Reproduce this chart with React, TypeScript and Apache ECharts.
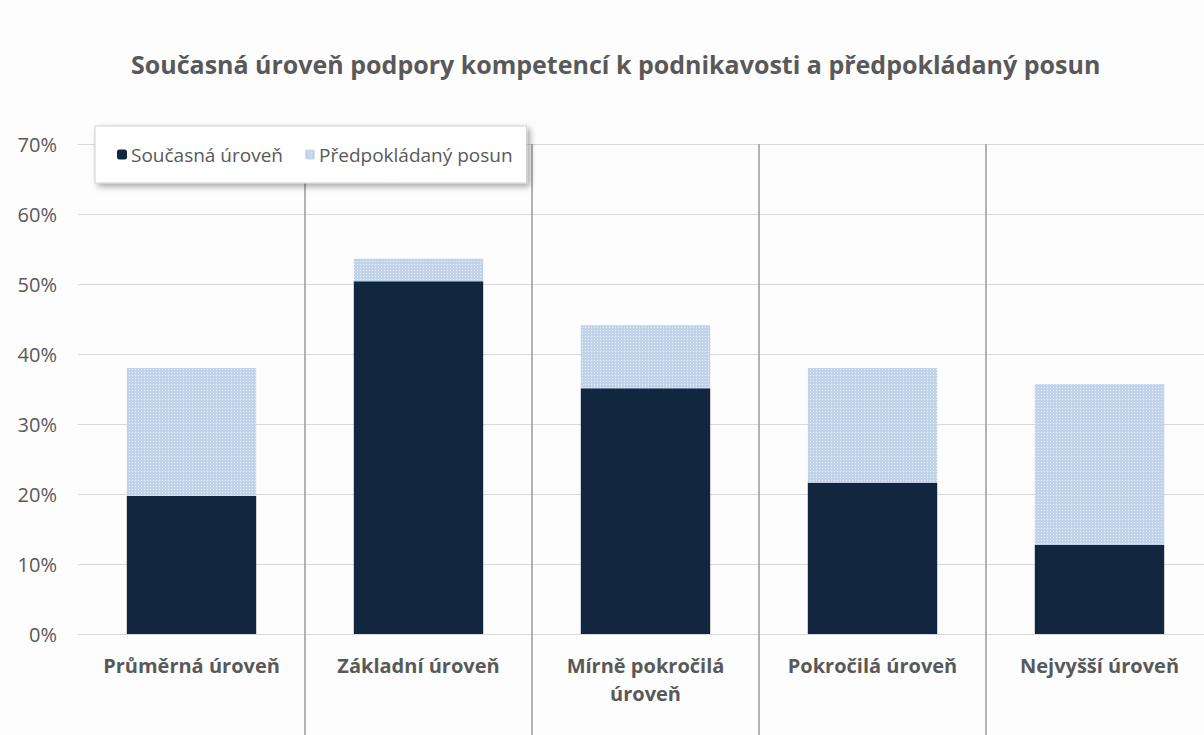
import React, { useEffect, useRef } from "react";
import * as echarts from "echarts";

const categories = [
  "Průměrná úroveň",
  "Základní úroveň",
  "Mírně pokročilá\núroveň",
  "Pokročilá úroveň",
  "Nejvyšší úroveň",
];
const currentLevel = [19.7, 50.4, 35.1, 21.6, 12.7];
const expectedShift = [18.3, 3.2, 9.0, 16.4, 23.0];
const seriesNames = ["Současná úroveň", "Předpokládaný posun"];
const titleText = "Současná úroveň podpory kompetencí k podnikavosti a předpokládaný posun";
const yTicks = { min: 0, max: 70, interval: 10 };

const FONT = "'Open Sans', 'Noto Sans', sans-serif";
const GRAY = "#595959";

export default function App() {
  const ref = useRef<HTMLDivElement>(null);
  useEffect(() => {
    document.body.style.margin = "0";
    const chart = echarts.init(ref.current!, null, { renderer: "svg" });
    const boundary = (i: number) => i !== 0;
    chart.setOption({
      animation: false,
      backgroundColor: "#fdfdfd",
      title: {
        text: titleText,
        left: 126,
        top: 46,
        textStyle: { fontFamily: FONT, fontSize: 25, fontWeight: "bold", color: GRAY },
      },
      legend: {
        left: 95,
        top: 126,
        padding: [19, 14, 19, 22],
        itemGap: 22,
        itemWidth: 10,
        itemHeight: 10,
        backgroundColor: "#ffffff",
        borderColor: "#cfcfcf",
        borderWidth: 1,
        shadowBlur: 6,
        shadowOffsetX: 3,
        shadowOffsetY: 3,
        shadowColor: "rgba(0,0,0,0.35)",
        textStyle: { fontFamily: FONT, fontSize: 19, color: GRAY, padding: [0, 0, 0, -1] },
        data: seriesNames,
      },
      grid: { left: 78, right: 0, top: 144, bottom: 101 },
      xAxis: {
        type: "category",
        data: categories,
        boundaryGap: true,
        axisLine: { show: true, lineStyle: { color: "#d9d9d9", width: 1 } },
        axisTick: {
          show: true,
          interval: boundary,
          length: 110,
          lineStyle: { color: "#9a9a9a", width: 1.5 },
        },
        splitLine: {
          show: true,
          interval: boundary,
          lineStyle: { color: "#9a9a9a", width: 1.5 },
        },
        axisLabel: {
          interval: 0,
          margin: 17,
          fontFamily: FONT,
          fontSize: 20,
          fontWeight: "bold",
          color: GRAY,
          lineHeight: 28,
        },
      },
      yAxis: {
        type: "value",
        min: yTicks.min,
        max: yTicks.max,
        interval: yTicks.interval,
        axisLine: { show: false },
        axisTick: { show: false },
        splitLine: { lineStyle: { color: "#d9d9d9", width: 1 } },
        axisLabel: {
          formatter: "{value}%",
          margin: 21,
          fontFamily: FONT,
          fontSize: 20,
          color: GRAY,
        },
      },
      series: [
        {
          name: seriesNames[0],
          type: "bar",
          stack: "total",
          barWidth: "57%",
          data: currentLevel,
          itemStyle: { color: "#13263f" },
        },
        {
          name: seriesNames[1],
          type: "bar",
          stack: "total",
          barWidth: "57%",
          data: expectedShift,
          itemStyle: {
            color: "#c0d3e9",
            decal: {
              symbol: "rect",
              symbolSize: 1,
              color: "rgba(255,255,255,0.6)",
              dashArrayX: [1, 2],
              dashArrayY: [1, 2],
              rotation: 0,
            },
          },
        },
      ],
    });
    return () => chart.dispose();
  }, []);
  return (
    <div style={{ width: 1204, height: 735, overflow: "hidden", position: "relative" }}>
      <div ref={ref} style={{ width: 1213, height: 735 }} />
    </div>
  );
}
